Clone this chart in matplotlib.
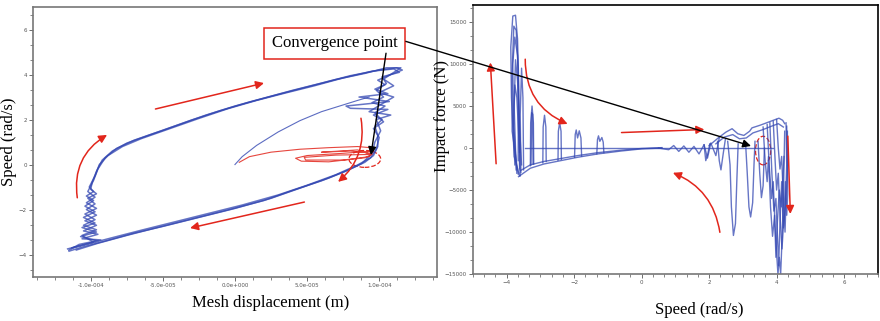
import numpy as np
import matplotlib
matplotlib.use("Agg")
import matplotlib.pyplot as plt
from matplotlib.ticker import AutoMinorLocator, FixedLocator, FixedFormatter
from matplotlib.patches import Ellipse

# ---- left panel: mesh displacement (1e-5 m) vs speed (rad/s) ----
loop_a = [(-11.5, -3.85), (-10.5, -3.65), (-9.0, -3.4), (-7.0, -3.05), (-5.0, -2.75), (-2.5, -2.35),
          (0, -1.95), (2.5, -1.5), (4.5, -1.05), (6.5, -0.6), (8.0, -0.2), (9.0, 0.1), (9.6, 0.4),
          (9.9, 0.8), (9.9, 1.3), (9.7, 1.7), (10.2, 2.0), (9.6, 2.2), (10.6, 2.45), (8.0, 2.5),
          (7.7, 2.6), (10.7, 2.8), (8.6, 3.0), (10.6, 3.15), (9.7, 3.35), (10.4, 3.55), (9.9, 3.75),
          (10.8, 4.0), (11.6, 4.2), (11.2, 4.3), (10.0, 4.2), (8.0, 3.95), (6.0, 3.62), (4.0, 3.3),
          (2.0, 2.95), (0, 2.6), (-2.0, 2.2), (-4.0, 1.75), (-6.0, 1.3), (-7.5, 0.95), (-8.5, 0.6),
          (-9.2, 0.2), (-9.6, -0.3), (-9.9, -0.8), (-10.0, -1.1), (-9.6, -1.3), (-10.2, -1.5),
          (-9.7, -1.75), (-10.3, -2.0), (-9.6, -2.25), (-10.4, -2.5), (-9.6, -2.7), (-10.5, -2.95),
          (-9.5, -3.1), (-10.6, -3.3), (-9.3, -3.35), (-10.8, -3.55), (-11.5, -3.8)]
loop_b = [(-11.2, -3.7), (-10.0, -3.5), (-8.5, -3.25), (-6.5, -2.92), (-4.5, -2.6), (-2.0, -2.2),
          (0.5, -1.8), (3.0, -1.35), (5.0, -0.92), (7.0, -0.45), (8.5, -0.02), (9.4, 0.3), (9.8, 0.7),
          (10.0, 1.2), (9.6, 1.6), (10.3, 1.9), (9.7, 2.3), (10.4, 2.6), (9.5, 2.75), (10.3, 3.0),
          (9.8, 3.3), (10.5, 3.6), (10.2, 3.9), (11.4, 4.1), (11.0, 4.25), (9.5, 4.15), (7.5, 3.85),
          (5.5, 3.5), (3.5, 3.18), (1.5, 2.85), (-0.5, 2.48), (-2.5, 2.05), (-4.5, 1.6), (-6.5, 1.15),
          (-7.8, 0.8), (-8.8, 0.4), (-9.4, 0.0), (-9.7, -0.5), (-10.1, -1.0), (-9.8, -1.2),
          (-10.3, -1.4), (-9.8, -1.6), (-10.4, -1.85), (-9.7, -2.1), (-10.5, -2.35), (-9.7, -2.6),
          (-10.6, -2.8), (-9.6, -3.0), (-10.7, -3.2), (-9.5, -3.4), (-11.0, -3.65), (-11.6, -3.75)]
loop_c = [(-11.0, -3.8), (-9.5, -3.5), (-7.5, -3.15), (-5.5, -2.82), (-3.0, -2.42), (-0.5, -2.02),
          (2.0, -1.6), (4.0, -1.15), (6.0, -0.72), (7.6, -0.32), (8.8, 0.05), (9.5, 0.5), (9.7, 1.0),
          (10.1, 1.5), (9.8, 2.0), (10.8, 2.2), (9.3, 2.35), (10.2, 2.7), (11.0, 3.0), (10.0, 3.2),
          (11.0, 3.5), (10.3, 3.8), (10.9, 4.05), (11.5, 4.3), (10.5, 4.3), (9.0, 4.05), (7.0, 3.78),
          (5.0, 3.45), (3.0, 3.12), (1.0, 2.78), (-1.0, 2.4), (-3.0, 1.98), (-5.0, 1.52), (-7.0, 1.08),
          (-8.2, 0.72), (-9.0, 0.3), (-9.5, -0.2), (-9.8, -0.7), (-10.2, -1.2), (-9.7, -1.45),
          (-10.3, -1.7), (-9.6, -1.95), (-10.4, -2.2), (-9.7, -2.45), (-10.5, -2.7), (-9.6, -2.9),
          (-10.6, -3.15), (-9.8, -3.45), (-11.3, -3.7)]
inner_blue = [(0.0, 0.0), (0.5, 0.35), (1.5, 0.85), (3.0, 1.45), (4.5, 1.95), (6.0, 2.35),
              (7.5, 2.65), (8.5, 2.85), (9.3, 3.0)]
red_traj = [(0.3, 0.1), (1.0, 0.35), (2.5, 0.55), (4.5, 0.68), (6.5, 0.75), (8.5, 0.8), (9.4, 0.75),
            (9.6, 0.6), (7.5, 0.5), (5.0, 0.4), (4.2, 0.28), (4.6, 0.15), (6.5, 0.12), (9.0, 0.3),
            (9.5, 0.45), (7.0, 0.42), (4.8, 0.32), (4.9, 0.2), (7.5, 0.2), (9.3, 0.35), (9.5, 0.5),
            (8.0, 0.6), (6.0, 0.55), (8.5, 0.65), (9.4, 0.45)]

disp_ticks = [-1e-4, -5e-5, 0, 5e-5, 1e-4]
disp_labels = ["-1.0e-004", "-5.0e-005", "0.0e+000", "5.0e-005", "1.0e-004"]
speed_ticks = [-4, -2, 0, 2, 4, 6]

# ---- right panel: speed (rad/s) vs impact force (N) ----
spikes_big = [
    [(-3.62, -3300), (-3.78, -1000), (-3.86, 6000), (-3.88, 12000), (-3.82, 15700), (-3.74, 15800),
     (-3.68, 13000), (-3.64, 7000), (-3.62, 0), (-3.6, -3300)],
    [(-3.7, -3000), (-3.8, 3000), (-3.82, 10000), (-3.76, 13200), (-3.68, 11000), (-3.64, 4000), (-3.62, -2500)],
    [(-3.72, -2600), (-3.78, 5000), (-3.74, 10500), (-3.68, 8000), (-3.6, 1000), (-3.56, -2000)],
    [(-3.76, -2000), (-3.8, 2500), (-3.76, 7500), (-3.7, 6000), (-3.62, -500)],
    [(-3.66, -3100), (-3.84, 2000), (-3.84, 9000), (-3.79, 14500), (-3.72, 14000), (-3.66, 9500), (-3.66, -1500)],
    [(-3.58, -2900), (-3.6, 4000), (-3.56, 9500), (-3.52, 6000), (-3.5, -2600)],
]
comb = [
    [(-3.3, -2100), (-3.29, 3000), (-3.25, 5000), (-3.21, 3000), (-3.2, -1900)],
    [(-3.28, -2000), (-3.26, 4200), (-3.23, 4000), (-3.22, -1900)],
    [(-2.93, -1750), (-2.92, 2500), (-2.88, 3900), (-2.84, 2500), (-2.83, -1600)],
    [(-2.48, -1450), (-2.47, 2000), (-2.43, 3000), (-2.39, 2000), (-2.38, -1350)],
    [(-1.99, -1100), (-1.97, 1600), (-1.94, 2150), (-1.9, 1200), (-1.85, 2050), (-1.8, 1200), (-1.78, -950)],
    [(-1.33, -700), (-1.31, 1000), (-1.28, 1450), (-1.24, 800), (-1.18, 1250), (-1.14, 700), (-1.12, -550)],
]
band_lo = [(-3.65, -3400), (-3.3, -2400), (-2.9, -1900), (-2.4, -1500), (-1.9, -1100), (-1.3, -700),
           (-0.6, -350), (0, -100), (0.6, 0)]
band_hi = [(-3.6, -2700), (-3.3, -2000), (-2.9, -1600), (-2.4, -1250), (-1.9, -900), (-1.3, -550),
           (-0.6, -250), (0, -50), (0.6, 50)]
zero_line = [(-3.45, 0), (3.9, 0)]
ripples = [(0.5, 0), (0.8, -200), (0.95, 300), (1.1, -400), (1.25, 250), (1.4, -500), (1.55, 200),
           (1.7, -700), (1.85, 400), (1.95, -1200), (2.05, 600), (2.2, -900), (2.3, 1200)]
hump_a = [(2.0, 300), (2.3, 1300), (2.5, 1900), (2.68, 2300), (2.85, 1700), (3.03, 1500), (3.2, 2000),
          (3.27, 2400), (3.5, 2700), (3.67, 2950), (3.9, 3300), (4.07, 3550), (4.18, 3300), (4.24, 2900)]
hump_b = [(2.2, 500), (2.45, 1300), (2.7, 1600), (2.9, 1100), (3.1, 1200), (3.3, 1800), (3.6, 2200),
          (3.85, 2600), (4.05, 2900), (4.2, 2500)]
dips = [
    [(2.55, 800), (2.62, -2000), (2.66, -7000), (2.72, -10400), (2.78, -9000), (2.82, -4000), (2.86, 500)],
    [(3.08, 600), (3.13, -3000), (3.18, -7000), (3.23, -8200), (3.29, -6500), (3.33, -2000), (3.36, 800)],
    [(3.45, 800), (3.5, -3000), (3.55, -5900), (3.6, -4500), (3.64, 0)],
    [(2.25, 800), (2.3, -1500), (2.35, -2600), (2.42, -600), (2.48, 1000)],
    [(1.85, 400), (1.9, -1500), (1.96, -700), (2.02, 500)],
    [(3.72, 2800), (3.78, -2000), (3.85, -6000), (3.9, -4000), (3.95, -9000), (4.0, -12500), (4.04, -15000),
     (4.08, -13000), (4.12, -15000), (4.16, -11000), (4.2, -6000), (4.24, 2000)],
    [(3.8, 3000), (3.86, -3000), (3.92, -7500), (3.98, -6000), (4.02, -10000), (4.06, -14000), (4.1, -9000),
     (4.15, -4000), (4.2, -9500), (4.26, -7000), (4.3, -2000), (4.28, 3000)],
    [(3.9, 3200), (3.95, -1000), (4.0, -5000), (4.05, -3000), (4.1, -8000), (4.16, -12000), (4.22, -8000),
     (4.26, -4000), (4.3, -8000), (4.33, -5500), (4.32, 2000)],
    [(4.0, 3400), (4.05, 0), (4.1, -2500), (4.15, -1000), (4.2, -6000), (4.25, -10000), (4.28, -6000),
     (4.32, -3000), (4.3, 2600)],
    [(3.6, 2500), (3.66, -1500), (3.72, -4000), (3.76, -1000), (3.82, -7000), (3.88, -10500), (3.94, -8000),
     (3.98, -13000), (4.02, -9000), (4.08, -5000), (4.14, -7000), (4.22, -1000)],
]
force_ticks = [-15000, -10000, -5000, 0, 5000, 10000, 15000]
speed2_ticks = [-4, -2, 0, 2, 4, 6]

BLUE = "#3347b2"
RED = "#e2261c"
SERIF = "Liberation Serif"


def pts(p, xscale=1.0):
    a = np.array(p, dtype=float)
    return a[:, 0] * xscale, a[:, 1]


fig = plt.figure(figsize=(8.8, 3.21), dpi=100)
ax1 = fig.add_axes([0.0375, 0.137, 0.459, 0.841])
ax2 = fig.add_axes([0.5375, 0.146, 0.460, 0.838])
ax2.patch.set_alpha(0)

# left panel
for path in (loop_a, loop_b, loop_c):
    x, y = pts(path, 1e-5)
    ax1.plot(x, y, color=BLUE, lw=1.1, alpha=0.75)
x, y = pts(inner_blue, 1e-5)
ax1.plot(x, y, color=BLUE, lw=0.8, alpha=0.8)
x, y = pts(red_traj, 1e-5)
ax1.plot(x, y, color=RED, lw=0.8, alpha=0.85)
ax1.add_patch(Ellipse((9.0e-5, 0.25), 2.2e-5, 0.75, fill=False, ec=RED, ls="--", lw=0.9))

ax1.set_xlim(-1.4e-4, 1.4e-4)
ax1.set_ylim(-5, 7)
ax1.xaxis.set_major_locator(FixedLocator(disp_ticks))
ax1.xaxis.set_major_formatter(FixedFormatter(disp_labels))
ax1.set_yticks(speed_ticks)
ax1.xaxis.set_minor_locator(AutoMinorLocator(4))
ax1.yaxis.set_minor_locator(AutoMinorLocator(3))

red_arrow = dict(arrowstyle="-|>", color=RED, lw=1.1, mutation_scale=12)
ax1.annotate("", xy=(-8.7e-5, 1.38), xytext=(-10.9e-5, -1.6),
             arrowprops=dict(red_arrow, connectionstyle="arc3,rad=-0.35"))
ax1.annotate("", xy=(2.2e-5, 3.65), xytext=(-5.7e-5, 2.44), arrowprops=red_arrow)
ax1.annotate("", xy=(-3.3e-5, -2.85), xytext=(5.0e-5, -1.64), arrowprops=red_arrow)
ax1.annotate("", xy=(7.0e-5, -0.85), xytext=(8.7e-5, 2.18),
             arrowprops=dict(red_arrow, connectionstyle="arc3,rad=-0.3"))

ax1.text(6.9e-5, 5.4, "Convergence point", family=SERIF, fontsize=12, ha="center", va="center",
         bbox=dict(boxstyle="square,pad=0.45", fc="white", ec=RED, lw=1.1), zorder=5)
ax1.annotate("", xy=(9.4e-5, 0.3), xytext=(10.5e-5, 5.07),
             arrowprops=dict(arrowstyle="-|>", color="k", lw=1.0, mutation_scale=12), zorder=6)

ax1.set_xlabel("Mesh displacement (m)", family=SERIF, fontsize=12)
ax1.set_ylabel("Speed (rad/s)", family=SERIF, fontsize=12)
ax1.xaxis.set_label_coords(0.589, -0.096)
ax1.yaxis.set_label_coords(-0.059, 0.5)
ax1.xaxis.label.set_va("center")
ax1.yaxis.label.set_va("center")

# right panel
for group in (spikes_big, comb, dips):
    for path in group:
        x, y = pts(path)
        ax2.plot(x, y, color=BLUE, lw=1.0, alpha=0.75)
for path in (band_lo, band_hi, zero_line, ripples, hump_a, hump_b):
    x, y = pts(path)
    ax2.plot(x, y, color=BLUE, lw=1.0, alpha=0.75)
ax2.add_patch(Ellipse((3.6, -300), 0.45, 3400, fill=False, ec=RED, ls="--", lw=0.9))

ax2.set_xlim(-5, 7)
ax2.set_ylim(-15000, 17000)
ax2.set_xticks(speed2_ticks)
ax2.set_yticks(force_ticks)
ax2.xaxis.set_minor_locator(AutoMinorLocator(6))
ax2.yaxis.set_minor_locator(AutoMinorLocator(3))

ax2.annotate("", xy=(-4.49, 10500), xytext=(-4.31, -2200), arrowprops=red_arrow)
ax2.annotate("", xy=(-2.12, 2740), xytext=(-3.45, 10900),
             arrowprops=dict(red_arrow, connectionstyle="arc3,rad=0.35"))
ax2.annotate("", xy=(1.94, 2220), xytext=(-0.68, 1830), arrowprops=red_arrow)
ax2.annotate("", xy=(0.85, -2820), xytext=(2.33, -10350),
             arrowprops=dict(red_arrow, connectionstyle="arc3,rad=0.3"))
ax2.annotate("", xy=(4.41, -8170), xytext=(4.33, 1750), arrowprops=red_arrow)

# long black arrow from the label box to the right panel
ax2.annotate("", xy=(3.32, 150), xycoords=ax2.transData,
             xytext=(11.66e-5, 5.51), textcoords=ax1.transData,
             arrowprops=dict(arrowstyle="-|>", color="k", lw=1.0, mutation_scale=12),
             annotation_clip=False, zorder=6)

ax2.set_xlabel("Speed (rad/s)", family=SERIF, fontsize=12)
ax2.set_ylabel("Impact force (N)", family=SERIF, fontsize=12)
ax2.xaxis.set_label_coords(0.56, -0.134)
ax2.yaxis.set_label_coords(-0.077, 0.587)
ax2.xaxis.label.set_va("center")
ax2.yaxis.label.set_va("center")

for ax in (ax1, ax2):
    ax.tick_params(which="major", direction="out", length=3, width=0.6, labelsize=4,
                   colors="#555555", pad=1.5)
    ax.tick_params(which="minor", direction="out", length=2, width=0.5, colors="#555555")
    for s in ax.spines.values():
        s.set_color("#777777")
        s.set_linewidth(1.2)
ax2.spines["top"].set_color("k")
ax2.spines["right"].set_color("k")

fig.savefig("out.png", dpi=100)
